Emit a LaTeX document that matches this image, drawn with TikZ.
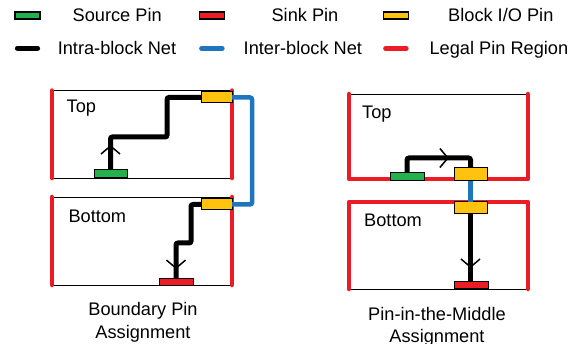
\documentclass[tikz,border=0pt]{standalone}
\usepackage{fontspec}
\setmainfont{Liberation Sans}
\usetikzlibrary{arrows.meta, decorations.markings}
\definecolor{SourceGreen}{RGB}{34,177,76}
\definecolor{SinkRed}{RGB}{237,28,36}
\definecolor{IOYellow}{RGB}{255,194,14}
\definecolor{NetBlue}{RGB}{31,117,192}

\begin{document}
\begin{tikzpicture}[x=1pt, y=-1pt, font=\fontsize{18.2}{22.6}\selectfont,
  block/.style={rectangle, draw, line width=0.8pt, inner sep=0pt, outer sep=0pt},
  pin/.style={rectangle, draw, line width=1pt, inner sep=0pt, outer sep=0pt, minimum width=33pt, minimum height=8pt},
  src/.style={pin, fill=SourceGreen},
  sink/.style={pin, fill=SinkRed, minimum height=7pt},
  blkio/.style={pin, fill=IOYellow, minimum width=31pt, minimum height=11pt},
  lgpin/.style={minimum width=25pt, minimum height=7pt, line width=1.2pt},
  intra/.style={line width=5pt, black, rounded corners=2pt},
  inter/.style={line width=4.5pt, NetBlue, rounded corners=2pt},
  legal/.style={line width=4.5pt, SinkRed, line cap=round, line join=round},
  txt/.style={inner sep=0pt, anchor=base west},
  midarrow/.style={postaction={decorate}, decoration={markings,
    mark=at position #1 with {\draw[line width=1.5pt, sharp corners] (-8pt,-9.5pt) -- (0pt,0pt) -- (-8pt,9.5pt);}}}]
\useasboundingbox (0,0) rectangle (580,344);

% legend
\node[src, lgpin] (lgSrc) at (27.5,15.5) {};
\node[txt] (lgSrcTxt) at (72.5,21.5) {Source Pin};
\node[sink, lgpin] (lgSink) at (211.9,15.5) {};
\node[txt] (lgSinkTxt) at (271.4,21.5) {Sink Pin};
\node[blkio, lgpin] (lgIO) at (395.9,15.5) {};
\node[txt] (lgIOTxt) at (448,21.5) {Block I/O Pin};
\coordinate (lgIntraA) at (17.4,48.3);
\coordinate (lgIntraB) at (37.6,48.3);
\coordinate (lgInterA) at (201.4,48.3);
\coordinate (lgInterB) at (222.4,48.3);
\coordinate (lgLegalA) at (385.4,48.3);
\coordinate (lgLegalB) at (406.4,48.3);
\draw[intra, line cap=round] (lgIntraA) -- (lgIntraB);
\draw[inter, line cap=round] (lgInterA) -- (lgInterB);
\draw[legal] (lgLegalA) -- (lgLegalB);
\node[txt] (lgIntraTxt) at (57.6,54.5) {Intra-block Net};
\node[txt] (lgInterTxt) at (243.5,54.5) {Inter-block Net};
\node[txt] (lgLegalTxt) at (429.4,54.5) {Legal Pin Region};

% boundary pin assignment
\node[block, minimum width=180pt, minimum height=87.5pt] (topA) at (142,134.3) {};
\node[block, minimum width=180pt, minimum height=88pt] (botA) at (142,241) {};
\draw[legal] (topA.north west) -- (topA.south west);
\draw[legal] (topA.north east) -- (topA.south east);
\draw[legal] (botA.north west) -- (botA.south west);
\draw[legal] (botA.north east) -- (botA.south east);
\node[txt] (topAlbl) at (66.5,112.5) {Top};
\node[txt] (botAlbl) at (68.3,222.7) {Bottom};
\node[src] (srcA) at (110.5,174) {};
\node[blkio] (ioA) at (216.5,97.5) {};
\node[blkio] (ioB) at (216.5,204.5) {};
\node[sink, minimum width=34pt] (sinkB) at (176,281.5) {};
\coordinate (bendA) at (167,137);
\coordinate (bendB) at (191,243);
\draw[intra, midarrow=24pt] (srcA.north) |- (bendA) |- (ioA.west);
\draw[intra, midarrow=86pt] (ioB.west) -| (bendB) -| (sinkB.north);
\draw[inter] (ioA.east) -- ++(20,0) |- (ioB.east);
\node[align=center, anchor=north, inner sep=0pt] (capA) at (143,302.5) {Boundary Pin\\Assignment};

% pin-in-the-middle assignment
\node[block, minimum width=179pt, minimum height=85pt] (topC) at (438.5,136.5) {};
\node[block, minimum width=179pt, minimum height=87pt] (botC) at (438.5,245.5) {};
\draw[legal] (topC.north west) -- (topC.south west) -- (topC.south east) -- (topC.north east);
\draw[legal] (botC.south west) -- (botC.north west) -- (botC.north east) -- (botC.south east);
\node[txt] (topClbl) at (362,118.3) {Top};
\node[txt] (botClbl) at (364,226.7) {Bottom};
\node[src, minimum width=34pt] (srcC) at (407,177) {};
\node[blkio, minimum width=33pt, minimum height=13pt] (ioC) at (470.5,174.5) {};
\node[blkio, minimum width=33pt, minimum height=12pt] (ioD) at (470.5,208) {};
\node[sink, minimum width=34pt] (sinkD) at (471,284.5) {};
\coordinate (bendC) at (470.5,158);
\draw[intra, midarrow=55pt] (srcC.north) |- (bendC) -- (ioC.north);
\draw[inter, rounded corners=0pt] (ioC.south) -- (ioD.north);
\draw[intra, midarrow=53pt] (ioD.south) -- (ioD.south |- sinkD.north);
\node[align=center, anchor=north, inner sep=0pt] (capC) at (437,307) {Pin-in-the-Middle\\Assignment};
\end{tikzpicture}
\end{document}
